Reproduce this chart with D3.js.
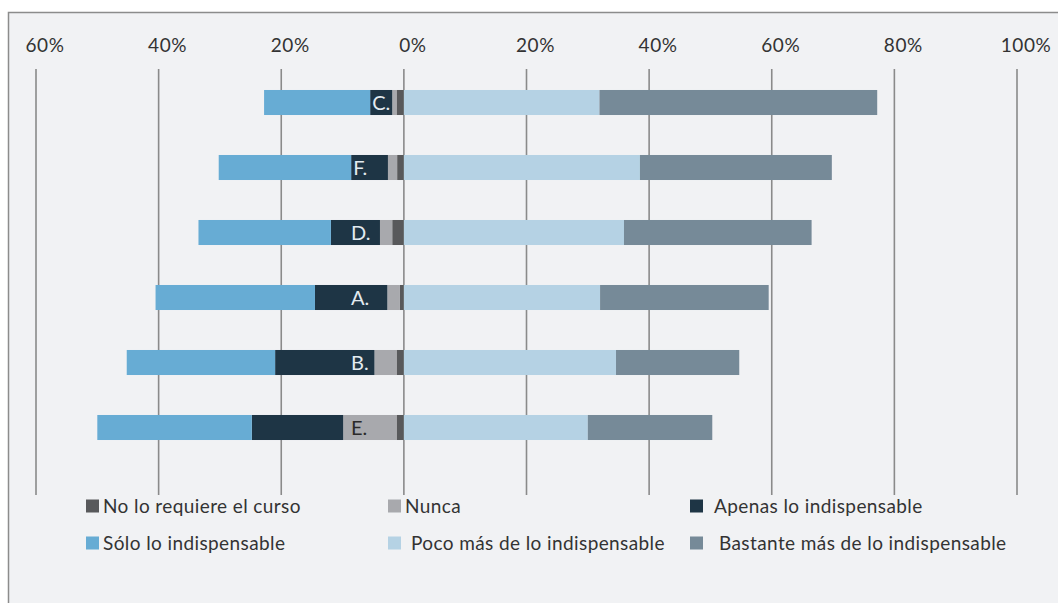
<!DOCTYPE html>
<html>
<head>
<meta charset="utf-8">
<script src="https://cdn.jsdelivr.net/npm/d3@7"></script>
<style>
  html, body { margin: 0; padding: 0; background: #fff; }
  svg { display: block; font-family: Lato, "Open Sans", sans-serif; }
</style>
</head>
<body>
<svg width="1058" height="603"></svg>
<script>
// categorias (de arriba a abajo)
var categories = ["C.", "F.", "D.", "A.", "B.", "E."];

// porcentajes por serie, en el orden de categories
var noRequiere = [1.2, 1.1, 1.9, 0.7, 1.2, 1.2];
var nunca      = [0.7, 1.5, 2.0, 2.0, 3.6, 8.7];
var apenas     = [3.6, 6.0, 8.0, 11.8, 16.2, 14.9];
var soloLo     = [17.3, 21.6, 21.6, 26.0, 24.2, 25.2];
var pocoMas    = [31.9, 38.5, 35.9, 32.0, 34.6, 30.0];
var bastante   = [45.3, 31.3, 30.6, 27.5, 20.1, 20.3];

var seriesNames = ["No lo requiere el curso", "Nunca", "Apenas lo indispensable",
                   "Sólo lo indispensable", "Poco más de lo indispensable", "Bastante más de lo indispensable"];
var seriesColors = ["#58595b", "#a8a9ad", "#1e3545", "#67acd4", "#b5d2e4", "#768a98"];

var tickValues = [-60, -40, -20, 0, 20, 40, 60, 80, 100];

var svg = d3.select("svg");

// marco gris
svg.append("rect")
  .attr("x", 8.5).attr("y", 12.5)
  .attr("width", 1100).attr("height", 650)
  .attr("fill", "#f1f2f4")
  .attr("stroke", "#8c8c8c")
  .attr("stroke-width", 1.5);

var x = d3.scaleLinear().domain([-60, 100]).range([36, 1017]);
var y = d3.scaleBand().domain(categories).range([70, 460]).paddingInner(0.615).paddingOuter(0.3075);

// lineas de la rejilla
svg.selectAll(".grid").data(tickValues).enter().append("line")
  .attr("x1", function (d) { return x(d); })
  .attr("x2", function (d) { return x(d); })
  .attr("y1", 69).attr("y2", 495)
  .attr("stroke", "#8a8a8a")
  .attr("stroke-width", 1.6);

svg.selectAll(".tick").data(tickValues).enter().append("text")
  .attr("x", function (d) { return x(d) + 9; })
  .attr("y", 52)
  .attr("text-anchor", "middle")
  .attr("font-size", 19)
  .attr("letter-spacing", 0.6)
  .attr("fill", "#333")
  .text(function (d) { return Math.abs(d) + "%"; });

// segmentos apilados: lado negativo desde 0 hacia la izquierda, positivo hacia la derecha
var negSeries = [noRequiere, nunca, apenas, soloLo];
var posSeries = [pocoMas, bastante];
var segs = [];
categories.forEach(function (c, i) {
  var acc = 0;
  negSeries.forEach(function (s, k) {
    segs.push({ cat: c, k: k, x0: -(acc + s[i]), x1: -acc });
    acc += s[i];
  });
  acc = 0;
  posSeries.forEach(function (s, k) {
    segs.push({ cat: c, k: k + 4, x0: acc, x1: acc + s[i] });
    acc += s[i];
  });
});

svg.selectAll(".seg").data(segs).enter().append("rect")
  .attr("x", function (d) { return x(d.x0); })
  .attr("width", function (d) { return x(d.x1) - x(d.x0); })
  .attr("y", function (d) { return y(d.cat); })
  .attr("height", y.bandwidth())
  .attr("fill", function (d) { return seriesColors[d.k]; });

// etiquetas de categoria dentro de la barra
categories.forEach(function (c, i) {
  var apStart = x(-(noRequiere[i] + nunca[i] + apenas[i]));
  var nuStart = x(-(noRequiere[i] + nunca[i]));
  var lx = Math.max(351, apStart + 2);
  svg.append("text")
    .attr("x", lx)
    .attr("y", y(c) + y.bandwidth() / 2 + 7)
    .attr("font-size", 20)
    .attr("fill", lx >= nuStart - 4 ? "#2a2a2a" : "#e3ebf0")
    .text(c);
});

// leyenda
var legX = [86, 388, 690];
var legY = [506, 543];
var legGap = [[17, 17, 24], [17, 23, 29]];
seriesNames.forEach(function (name, k) {
  var row = k < 3 ? 0 : 1, col = k % 3;
  var g = svg.append("g");
  g.append("rect")
    .attr("x", legX[col]).attr("y", legY[row] - 6.5)
    .attr("width", 13).attr("height", 13)
    .attr("fill", seriesColors[k]);
  g.append("text")
    .attr("x", legX[col] + legGap[row][col])
    .attr("y", legY[row] + 6.5)
    .attr("font-size", 19)
    .attr("letter-spacing", 0.4)
    .attr("fill", "#333")
    .text(name);
});
</script>
</body>
</html>
